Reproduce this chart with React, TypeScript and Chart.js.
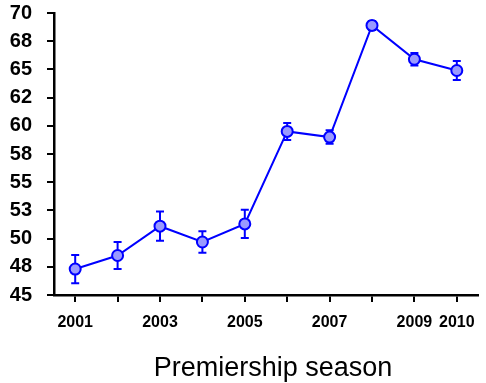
import React, { useEffect, useRef } from "react";
import { Chart, registerables } from "chart.js";

Chart.register(...registerables);

const seasons = ["2001", "2002", "2003", "2004", "2005", "2006", "2007", "2008", "2009", "2010"];
const labelledSeasons = ["2001", "2003", "2005", "2007", "2009", "2010"];
const values = [47.3, 48.5, 51.1, 49.7, 51.3, 59.5, 59.0, 68.9, 65.9, 64.9];
const errors = [1.25, 1.2, 1.3, 0.95, 1.25, 0.75, 0.6, 0.4, 0.55, 0.85];
const yTickValues = [45, 47.5, 50, 52.5, 55, 57.5, 60, 62.5, 65, 67.5, 70];
const yTickLabels = ["45", "48", "50", "53", "55", "58", "60", "62", "65", "68", "70"];
const xAxisTitle = "Premiership season";

const FONT = "'Liberation Sans', Arial, sans-serif";
const BLUE = "#0000ff";

const errorBarPlugin = {
  id: "errorBars",
  beforeDatasetsDraw(chart: any) {
    const { ctx, scales } = chart;
    const xs = scales.x;
    const ys = scales.y;
    ctx.save();
    ctx.strokeStyle = BLUE;
    ctx.lineWidth = 2;
    values.forEach((v, i) => {
      const x = xs.getPixelForValue(i);
      const yTop = ys.getPixelForValue(v + errors[i]);
      const yBot = ys.getPixelForValue(v - errors[i]);
      const cap = 4;
      ctx.beginPath();
      ctx.moveTo(x, yTop);
      ctx.lineTo(x, yBot);
      ctx.moveTo(x - cap, yTop);
      ctx.lineTo(x + cap, yTop);
      ctx.moveTo(x - cap, yBot);
      ctx.lineTo(x + cap, yBot);
      ctx.stroke();
    });
    ctx.restore();
  },
};

const axisTitlePlugin = {
  id: "xAxisTitle",
  afterDraw(chart: any) {
    const { ctx, chartArea } = chart;
    ctx.save();
    ctx.fillStyle = "#000";
    ctx.font = `27px ${FONT}`;
    ctx.textAlign = "center";
    ctx.textBaseline = "alphabetic";
    ctx.fillText(xAxisTitle, (chartArea.left + chartArea.right) / 2 + 7, 376);
    ctx.restore();
  },
};

export default function App() {
  const ref = useRef<HTMLCanvasElement>(null);
  useEffect(() => {
    if (!ref.current) return;
    const chart = new Chart(ref.current, {
      type: "line",
      data: {
        labels: seasons,
        datasets: [
          {
            data: values,
            borderColor: BLUE,
            borderWidth: 2,
            backgroundColor: "#9a9aff",
            pointBackgroundColor: "#9a9aff",
            pointBorderColor: BLUE,
            pointBorderWidth: 2,
            pointRadius: 5.5,
            tension: 0,
          },
        ],
      },
      options: {
        responsive: false,
        animation: false,
        layout: { padding: { top: 0, right: 8, left: 0, bottom: 0 } },
        plugins: { legend: { display: false }, tooltip: { enabled: false } },
        scales: {
          x: {
            type: "category",
            offset: true,
            grid: { offset: false, drawOnChartArea: false, drawTicks: true, tickLength: 7, color: "#000", lineWidth: 2 },
            border: { color: "#000", width: 2.5 },
            ticks: {
              autoSkip: false,
              maxRotation: 0,
              padding: 11,
              color: "#000",
              font: { family: FONT, size: 16, weight: "bold" },
              callback: (_v: any, i: number) => (labelledSeasons.includes(seasons[i]) ? seasons[i] : ""),
            },
            afterFit: (s: any) => {
              s.height = 88;
            },
          },
          y: {
            min: 45,
            max: 70,
            grid: { drawOnChartArea: false, drawTicks: true, tickLength: 7, color: "#000", lineWidth: 2 },
            border: { color: "#000", width: 2.5 },
            afterBuildTicks: (s: any) => {
              s.ticks = yTickValues.map((v) => ({ value: v }));
            },
            ticks: {
              autoSkip: false,
              padding: 15,
              color: "#000",
              font: { family: FONT, size: 20, weight: "bold" },
              callback: (v: any) => {
                const idx = yTickValues.indexOf(Number(v));
                return idx >= 0 ? yTickLabels[idx] : "";
              },
            },
            afterFit: (s: any) => {
              s.width = 54;
              s.paddingTop = 13;
              s.paddingBottom = 0;
            },
          },
        },
      },
      plugins: [errorBarPlugin, axisTitlePlugin],
    });
    return () => chart.destroy();
  }, []);
  return (
    <div style={{ position: "absolute", left: 0, top: 0, width: 486, height: 383, background: "#fff" }}>
      <canvas ref={ref} width={486} height={383} />
    </div>
  );
}
